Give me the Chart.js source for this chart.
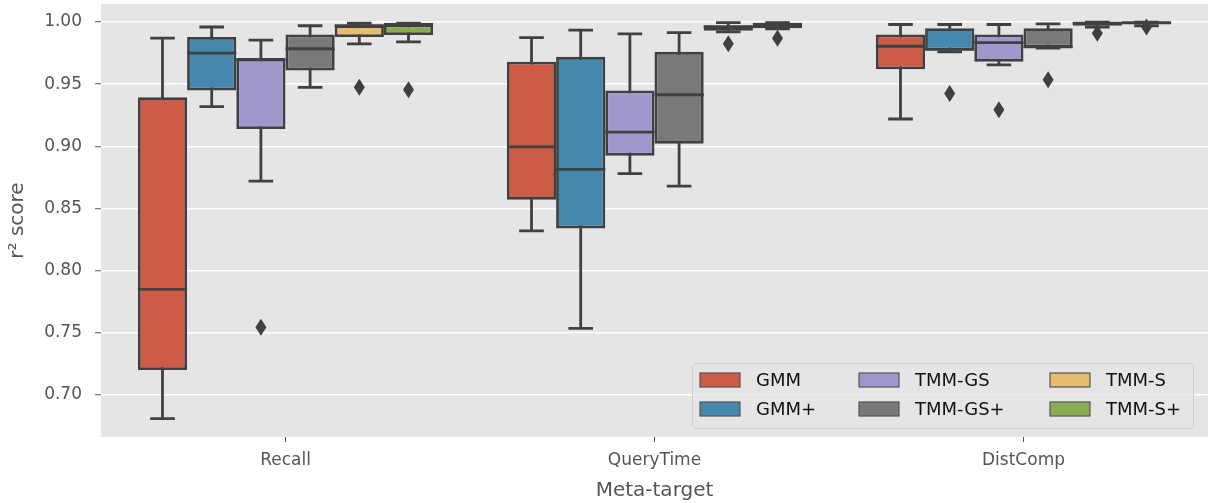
<!DOCTYPE html>
<html>
<head>
<meta charset="utf-8">
<script src="https://cdn.jsdelivr.net/npm/chart.js@4/dist/chart.umd.min.js"></script>
<style>
  html, body { margin: 0; padding: 0; background: #fff; }
  #wrap { width: 1217px; height: 503px; }
</style>
</head>
<body>
<div id="wrap"><canvas id="chart"></canvas></div>
<script>
const categories = ['Recall', 'QueryTime', 'DistComp']
const series = ['GMM', 'GMM+', 'TMM-GS', 'TMM-GS+', 'TMM-S', 'TMM-S+']
const colors = ['#cd5b46', '#4587ad', '#9e98cc', '#797979', '#e7bc6e', '#8bac52']
const yTicks = [0.70, 0.75, 0.80, 0.85, 0.90, 0.95, 1.00]

// box stats per series, one value per category
const whiskerLow = [
  [0.681, 0.832, 0.922],
  [0.932, 0.7535, 0.976],
  [0.872, 0.878, 0.9655],
  [0.9475, 0.868, 0.979],
  [0.9825, 0.992, 0.996],
  [0.984, 0.9945, 0.997]
]
const q1 = [
  [0.720, 0.857, 0.962],
  [0.945, 0.834, 0.977],
  [0.914, 0.8925, 0.968],
  [0.961, 0.902, 0.9795],
  [0.988, 0.993, 0.997],
  [0.9895, 0.995, 0.998]
]
const median = [
  [0.785, 0.8995, 0.9805],
  [0.975, 0.8815, 0.978],
  [0.9695, 0.9115, 0.9835],
  [0.9785, 0.9415, 0.980],
  [0.997, 0.996, 0.999],
  [0.998, 0.998, 0.9995]
]
const q3 = [
  [0.9395, 0.968, 0.990],
  [0.988, 0.972, 0.995],
  [0.971, 0.945, 0.990],
  [0.990, 0.976, 0.995],
  [0.9975, 0.9975, 0.9995],
  [0.998, 0.9995, 0.9998]
]
const whiskerHigh = [
  [0.987, 0.9875, 0.998],
  [0.996, 0.9935, 0.998],
  [0.9855, 0.9905, 0.998],
  [0.997, 0.9915, 0.9985],
  [0.999, 0.9995, 1.0],
  [0.999, 0.9995, 1.0]
]
const outliers = [
  [[], [], []],
  [[], [], [0.9425]],
  [[0.7545], [], [0.9295]],
  [[], [], [0.9535]],
  [[0.9475], [0.9825], [0.991]],
  [[0.9455], [0.987], [0.996]]
]

const edge = '#404040'
const lw = 2.8

// grey panel behind everything
const panel = {
  id: 'panel',
  beforeDraw(chart) {
    const a = chart.chartArea, ctx = chart.ctx
    ctx.save()
    ctx.fillStyle = '#e5e5e5'
    ctx.fillRect(a.left, a.top, a.right - a.left, a.bottom - a.top)
    ctx.restore()
  }
}

// whiskers and caps go under the boxes
const whiskers = {
  id: 'whiskers',
  beforeDatasetsDraw(chart) {
    const ctx = chart.ctx, y = chart.scales.y
    ctx.save()
    ctx.strokeStyle = edge
    ctx.lineWidth = lw
    series.forEach((s, i) => {
      chart.getDatasetMeta(i).data.forEach((bar, j) => {
        const x = bar.x, cap = bar.width / 4
        const lo = y.getPixelForValue(whiskerLow[i][j])
        const hi = y.getPixelForValue(whiskerHigh[i][j])
        ctx.beginPath()
        ctx.moveTo(x, lo); ctx.lineTo(x, hi)
        ctx.moveTo(x - cap, lo); ctx.lineTo(x + cap, lo)
        ctx.moveTo(x - cap, hi); ctx.lineTo(x + cap, hi)
        ctx.stroke()
      })
    })
    ctx.restore()
  }
}

// medians, fliers and the legend on top
const overlay = {
  id: 'overlay',
  afterDatasetsDraw(chart) {
    const ctx = chart.ctx, y = chart.scales.y
    ctx.save()
    ctx.strokeStyle = edge
    ctx.fillStyle = edge
    ctx.lineWidth = lw
    series.forEach((s, i) => {
      chart.getDatasetMeta(i).data.forEach((bar, j) => {
        const half = bar.width / 2
        const m = y.getPixelForValue(median[i][j])
        ctx.beginPath()
        ctx.moveTo(bar.x - half, m); ctx.lineTo(bar.x + half, m)
        ctx.stroke()
        outliers[i][j].forEach(v => {
          const py = y.getPixelForValue(v)
          ctx.beginPath()
          ctx.moveTo(bar.x, py - 8.5)
          ctx.lineTo(bar.x + 5.5, py)
          ctx.lineTo(bar.x, py + 8.5)
          ctx.lineTo(bar.x - 5.5, py)
          ctx.closePath()
          ctx.fill()
        })
      })
    })
    ctx.restore()
  },
  afterDraw(chart) {
    const ctx = chart.ctx, area = chart.chartArea
    const w = 501, h = 65
    const lx = area.right - 15 - w, ly = area.bottom - 9 - h
    ctx.save()
    ctx.fillStyle = 'rgba(229,229,229,0.8)'
    ctx.strokeStyle = '#d0d0d0'
    ctx.lineWidth = 1
    ctx.beginPath()
    ctx.roundRect(lx + 0.5, ly + 0.5, w, h, 4)
    ctx.fill(); ctx.stroke()
    ctx.font = '18px "DejaVu Sans"'
    ctx.textBaseline = 'middle'
    const colX = [8, 167, 358]
    series.forEach((s, i) => {
      const col = Math.floor(i / 2), row = i % 2
      const sx = lx + colX[col], sy = ly + 17 + row * 29
      ctx.fillStyle = colors[i]
      ctx.fillRect(sx, sy - 7, 40, 14)
      ctx.strokeStyle = '#555'
      ctx.lineWidth = 1.2
      ctx.strokeRect(sx, sy - 7, 40, 14)
      ctx.fillStyle = '#111'
      ctx.fillText(s, sx + 56, sy + 1)
    })
    ctx.restore()
  }
}

const datasets = series.map((s, i) => ({
  label: s,
  data: categories.map((c, j) => [q1[i][j], q3[i][j]]),
  backgroundColor: colors[i],
  borderColor: edge,
  borderWidth: lw,
  borderSkipped: false,
  categoryPercentage: 0.8,
  barPercentage: 1.0
}))

new Chart(document.getElementById('chart'), {
  type: 'bar',
  data: { labels: categories, datasets },
  plugins: [panel, whiskers, overlay],
  options: {
    responsive: true,
    maintainAspectRatio: false,
    animation: false,
    layout: { padding: { top: 4, right: 9, left: 0, bottom: 0 } },
    plugins: { legend: { display: false }, tooltip: { enabled: false } },
    scales: {
      x: {
        grid: { display: true, drawOnChartArea: false, offset: false, tickLength: 5, tickColor: '#555', tickWidth: 1 },
        border: { display: false },
        ticks: { color: '#555', font: { family: 'DejaVu Sans', size: 17 }, padding: 8 },
        title: { display: true, text: 'Meta-target', color: '#555', font: { family: 'DejaVu Sans', size: 20 }, padding: { top: 4, bottom: 0 } },
        afterFit: s => { s.height = 66; s.paddingLeft = 0; s.paddingRight = 0 }
      },
      y: {
        min: 0.6662,
        max: 1.0145,
        afterBuildTicks: s => { s.ticks = yTicks.map(v => ({ value: v })) },
        grid: { color: '#ffffff', lineWidth: 1.5, tickLength: 6, tickColor: '#555', tickWidth: 1 },
        border: { display: false },
        ticks: { color: '#555', font: { family: 'DejaVu Sans', size: 17 }, padding: 13, callback: v => v.toFixed(2) },
        title: { display: true, text: 'r² score', color: '#555', font: { family: 'DejaVu Sans', size: 20 }, padding: { top: 6, bottom: 0 } },
        afterFit: s => { s.width = 101; s.paddingTop = 0; s.paddingBottom = 0 }
      }
    }
  }
})
</script>
</body>
</html>
